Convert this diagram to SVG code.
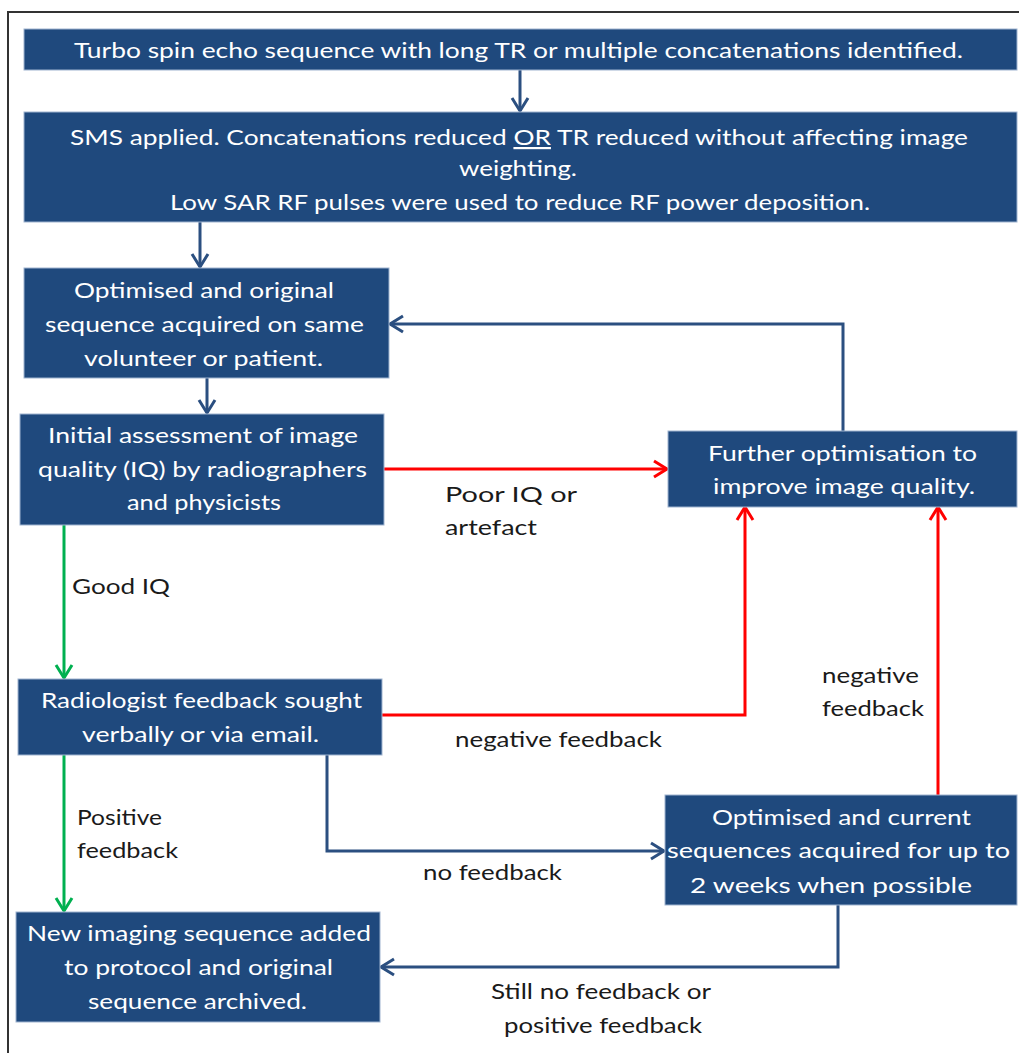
<svg xmlns="http://www.w3.org/2000/svg" width="1019" height="1053" viewBox="0 0 1019 1053">
<style>
.box{fill:#1f497d;stroke:#9fb4d0;stroke-width:1}
.bt{fill:#ffffff;font-family:Lato,"Liberation Sans",sans-serif;font-size:22px}
.lt{fill:#1a1a1a;font-family:Lato,"Liberation Sans",sans-serif;font-size:22px}
.cb{fill:none;stroke:#2b4f80;stroke-width:3}
.cr{fill:none;stroke:#ff0000;stroke-width:3}
.cg{fill:none;stroke:#00b050;stroke-width:3}
</style>
<defs>
<marker id="ab" markerUnits="userSpaceOnUse" markerWidth="18" markerHeight="20" refX="15" refY="10" orient="auto"><path d="M2,2 L15,10 L2,18" fill="none" stroke="#2b4f80" stroke-width="3"/></marker>
<marker id="ar" markerUnits="userSpaceOnUse" markerWidth="18" markerHeight="20" refX="15" refY="10" orient="auto"><path d="M2,2 L15,10 L2,18" fill="none" stroke="#ff0000" stroke-width="3"/></marker>
<marker id="ag" markerUnits="userSpaceOnUse" markerWidth="18" markerHeight="20" refX="15" refY="10" orient="auto"><path d="M2,2 L15,10 L2,18" fill="none" stroke="#00b050" stroke-width="3"/></marker>
</defs>
<rect width="1019" height="1053" fill="#ffffff"/>
<path d="M8,1053 V12 H1019" fill="none" stroke="#333333" stroke-width="2"/>

<g id="connectors">
<path class="cb" d="M520,70 V111" marker-end="url(#ab)"/>
<path class="cb" d="M200,222 V267" marker-end="url(#ab)"/>
<path class="cb" d="M207,378 V413" marker-end="url(#ab)"/>
<path class="cb" d="M843,431 V324 H390" marker-end="url(#ab)"/>
<path class="cr" d="M384,469 H667" marker-end="url(#ar)"/>
<path class="cg" d="M64,525 V678" marker-end="url(#ag)"/>
<path class="cr" d="M382,715 H745 V507" marker-end="url(#ar)"/>
<path class="cr" d="M938,795 V507" marker-end="url(#ar)"/>
<path class="cb" d="M327,755 V851 H664" marker-end="url(#ab)"/>
<path class="cg" d="M64,755 V911" marker-end="url(#ag)"/>
<path class="cb" d="M838,905 V967 H381" marker-end="url(#ab)"/>
<text class="lt" x="445" y="502" textLength="132" lengthAdjust="spacingAndGlyphs">Poor IQ or</text>
<text class="lt" x="445" y="535" textLength="92" lengthAdjust="spacingAndGlyphs">artefact</text>
<text class="lt" x="72" y="594" textLength="98" lengthAdjust="spacingAndGlyphs">Good IQ</text>
<text class="lt" x="455" y="747" textLength="207" lengthAdjust="spacingAndGlyphs">negative feedback</text>
<text class="lt" x="822" y="683" textLength="97" lengthAdjust="spacingAndGlyphs">negative</text>
<text class="lt" x="822" y="716" textLength="102" lengthAdjust="spacingAndGlyphs">feedback</text>
<text class="lt" x="77" y="825" textLength="85" lengthAdjust="spacingAndGlyphs">Positive</text>
<text class="lt" x="77" y="858" textLength="101" lengthAdjust="spacingAndGlyphs">feedback</text>
<text class="lt" x="423" y="880" textLength="139" lengthAdjust="spacingAndGlyphs">no feedback</text>
<text class="lt" x="491" y="999" textLength="220" lengthAdjust="spacingAndGlyphs">Still no feedback or</text>
<text class="lt" x="504" y="1033" textLength="198" lengthAdjust="spacingAndGlyphs">positive feedback</text>
</g>

<g id="n1">
<rect class="box" x="24" y="29" width="993" height="41"/>
<text class="bt" x="74" y="58" textLength="889" lengthAdjust="spacingAndGlyphs">Turbo spin echo sequence with long TR or multiple concatenations identified.</text>
</g>
<g id="n2">
<rect class="box" x="24" y="112" width="993" height="110"/>
<text class="bt" x="70" y="145" textLength="898" lengthAdjust="spacingAndGlyphs">SMS applied. Concatenations reduced <tspan text-decoration="underline">OR</tspan> TR reduced without affecting image</text>
<text class="bt" x="459" y="176" textLength="118" lengthAdjust="spacingAndGlyphs">weighting.</text>
<text class="bt" x="170" y="210" textLength="700" lengthAdjust="spacingAndGlyphs">Low SAR RF pulses were used to reduce RF power deposition.</text>
</g>
<g id="n3">
<rect class="box" x="24" y="268" width="365" height="110"/>
<text class="bt" x="74" y="298" textLength="260" lengthAdjust="spacingAndGlyphs">Optimised and original</text>
<text class="bt" x="45" y="332" textLength="319" lengthAdjust="spacingAndGlyphs">sequence acquired on same</text>
<text class="bt" x="84" y="366" textLength="239" lengthAdjust="spacingAndGlyphs">volunteer or patient.</text>
</g>
<g id="n4">
<rect class="box" x="20" y="414" width="364" height="111"/>
<text class="bt" x="48" y="443" textLength="310" lengthAdjust="spacingAndGlyphs">Initial assessment of image</text>
<text class="bt" x="38" y="477" textLength="329" lengthAdjust="spacingAndGlyphs">quality (IQ) by radiographers</text>
<text class="bt" x="127" y="510" textLength="154" lengthAdjust="spacingAndGlyphs">and physicists</text>
</g>
<g id="n5">
<rect class="box" x="668" y="431" width="349" height="76"/>
<text class="bt" x="708" y="461" textLength="269" lengthAdjust="spacingAndGlyphs">Further optimisation to</text>
<text class="bt" x="713" y="494" textLength="262" lengthAdjust="spacingAndGlyphs">improve image quality.</text>
</g>
<g id="n6">
<rect class="box" x="18" y="679" width="364" height="76"/>
<text class="bt" x="41" y="708" textLength="321" lengthAdjust="spacingAndGlyphs">Radiologist feedback sought</text>
<text class="bt" x="82" y="742" textLength="237" lengthAdjust="spacingAndGlyphs">verbally or via email.</text>
</g>
<g id="n7">
<rect class="box" x="16" y="912" width="364" height="110"/>
<text class="bt" x="27" y="941" textLength="344" lengthAdjust="spacingAndGlyphs">New imaging sequence added</text>
<text class="bt" x="64" y="975" textLength="269" lengthAdjust="spacingAndGlyphs">to protocol and original</text>
<text class="bt" x="88" y="1009" textLength="219" lengthAdjust="spacingAndGlyphs">sequence archived.</text>
</g>
<g id="n8">
<rect class="box" x="665" y="795" width="352" height="110"/>
<text class="bt" x="712" y="825" textLength="259" lengthAdjust="spacingAndGlyphs">Optimised and current</text>
<text class="bt" x="667" y="858" textLength="343" lengthAdjust="spacingAndGlyphs">sequences acquired for up to</text>
<text class="bt" x="690" y="893" textLength="282" lengthAdjust="spacingAndGlyphs">2 weeks when possible</text>
</g>
</svg>
